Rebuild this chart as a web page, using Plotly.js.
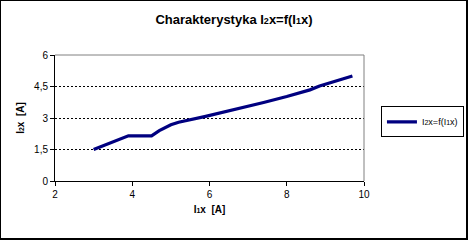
<!DOCTYPE html>
<html>
<head>
<meta charset="utf-8">
<script src="https://cdn.plot.ly/plotly-3.0.1.min.js"></script>
<style>
html,body{margin:0;padding:0;background:#fff;}
#wrap{position:relative;width:468px;height:240px;}
#chart{width:468px;height:240px;}
#frame{position:absolute;left:0;top:0;width:468px;height:240px;box-sizing:border-box;border:1px solid #000;border-right:2px solid #000;border-bottom:2px solid #000;pointer-events:none;}
</style>
</head>
<body>
<div id="wrap"><div id="chart"></div><div id="frame"></div></div>
<script>
const i1x = [3.0, 3.4, 3.9, 4.5, 4.7, 5.0, 5.2, 5.9, 6.6, 7.4, 8.0, 8.6, 8.85, 9.3, 9.7];
const i2x = [1.5, 1.8, 2.15, 2.15, 2.4, 2.68, 2.8, 3.08, 3.38, 3.74, 4.02, 4.34, 4.52, 4.77, 5.0];
const yTickVals = [0, 1.5, 3, 4.5, 6];
const yTickText = ['0', '1,5', '3', '4,5', '6'];
const xTickVals = [2, 4, 6, 8, 10];
const seriesName = 'I<span style="font-size:7px">2</span>x=f(I<span style="font-size:7px">1</span>x)';

const font = 'Arial, "Liberation Sans", sans-serif';

Plotly.newPlot('chart', [{
  x: i1x, y: i2x, type: 'scatter', mode: 'lines',
  name: seriesName,
  line: {color: '#000080', width: 3.2}
}], {
  width: 468, height: 240,
  margin: {l: 55, r: 104, t: 55, b: 59},
  paper_bgcolor: '#fff', plot_bgcolor: '#fff',
  separators: ', ',
  font: {family: font, size: 10, color: '#000'},
  title: {
    text: 'Charakterystyka I<span style="font-size:9px">2</span>x=f(I<span style="font-size:9px">1</span>x)',
    font: {family: font, size: 13, weight: 'bold', color: '#000'},
    x: 0.5, xref: 'container', xanchor: 'center', y: 0.94, yref: 'container'
  },
  xaxis: {
    range: [2, 10], tickvals: xTickVals, ticks: 'outside', ticklen: 4, tickcolor: '#000',
    showgrid: false, zeroline: false, showline: true, linecolor: '#000', linewidth: 1,
    tickfont: {size: 10},
    title: {text: 'I<span style="font-size:7px">1</span>x  [A]', font: {size: 10, weight: 'bold'}, standoff: 6}
  },
  yaxis: {
    range: [0, 6], tickvals: yTickVals, ticktext: yTickText, ticks: 'outside', ticklen: 4, tickcolor: '#000',
    showgrid: true, gridcolor: '#000', griddash: '2px,2px', gridwidth: 1,
    zeroline: false, showline: true, linecolor: '#000', linewidth: 1,
    tickfont: {size: 10},
    title: {text: 'I<span style="font-size:7px">2</span>x  [A]', font: {size: 10, weight: 'bold'}, standoff: 7}
  },
  shapes: [
    {type: 'line', xref: 'paper', yref: 'paper', x0: 0, x1: 1, y0: 1, y1: 1, line: {color: '#808080', width: 1}, layer: 'above'},
    {type: 'line', xref: 'paper', yref: 'paper', x0: 1, x1: 1, y0: 0, y1: 1, line: {color: '#808080', width: 1}, layer: 'above'}
  ],
  showlegend: true,
  legend: {
    x: 0.814, xref: 'container', y: 0.492, yref: 'container', yanchor: 'middle', xanchor: 'left',
    bordercolor: '#000', borderwidth: 1, bgcolor: '#fff',
    font: {size: 9}, itemwidth: 30, tracegroupgap: 0
  }
}, {displayModeBar: false, staticPlot: true});
</script>
</body>
</html>
